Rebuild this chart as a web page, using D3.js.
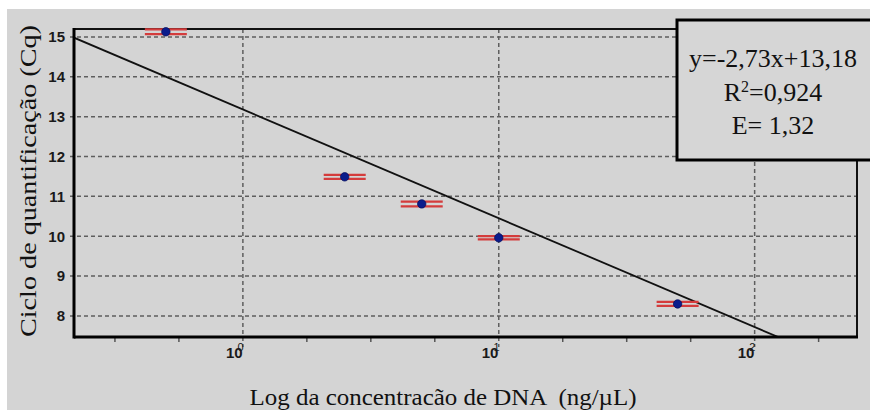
<!DOCTYPE html>
<html>
<head>
<meta charset="utf-8">
<script src="https://cdn.jsdelivr.net/npm/d3@7"></script>
<style>
  html, body { margin: 0; padding: 0; background: #fff; }
  svg { display: block; }
</style>
</head>
<body>
<div class="chart"></div>
<script>
const width = 870
const height = 410

// concentração de DNA (ng/µL) e Cq médio de cada diluição
const concentrations = [0.5, 2.5, 5, 10, 50]
const cqMean = [15.13, 11.49, 10.81, 9.96, 8.30]
const cqError = [0.06, 0.05, 0.06, 0.04, 0.05]

// reta da curva padrão
const slope = -2.73
const intercept = 13.18

const yTicks = [8, 9, 10, 11, 12, 13, 14, 15]
const xMajorTicks = [1, 10, 100]
const xMajorExponents = ["0", "1", "2"]
const xMinorTicks = [-0.5, -0.25, 0.25, 0.5, 0.75, 1.25, 1.5, 1.75, 2.25].map(e => Math.pow(10, e))

const legendLines = ["y=-2,73x+13,18", "R|2|=0,924", "E= 1,32"]

const data = concentrations.map((c, i) => ({conc: c, cq: cqMean[i], err: cqError[i]}))

const margin = {top: 29, right: 13, bottom: 73, left: 74}
const innerWidth = width - margin.left - margin.right
const innerHeight = height - margin.top - margin.bottom

const svg = d3.select(".chart")
    .append("svg")
    .attr("width", width)
    .attr("height", height)

// fundo cinza com a faixa branca em cima e à esquerda
svg.append("rect")
    .attr("x", 7).attr("y", 9)
    .attr("width", width - 7).attr("height", height - 9)
    .attr("fill", "#d4d4d4")

const xScale = d3.scaleLog()
    .domain([Math.pow(10, -0.66), Math.pow(10, 2.4)])
    .range([0, innerWidth])

const yScale = d3.scaleLinear()
    .domain([7.47, 15.2])
    .range([innerHeight, 0])

const g = svg.append("g")
    .attr("transform", `translate(${margin.left}, ${margin.top})`)

g.append("clipPath").attr("id", "plot-clip")
  .append("rect")
    .attr("width", innerWidth)
    .attr("height", innerHeight)

// grade tracejada
g.selectAll("line.hgrid")
    .data(yTicks)
    .enter().append("line")
        .attr("class", "hgrid")
        .attr("x1", -4)
        .attr("x2", innerWidth)
        .attr("y1", d => yScale(d))
        .attr("y2", d => yScale(d))
        .attr("stroke", "#5e5e5e")
        .attr("stroke-width", 1.5)
        .attr("stroke-dasharray", "4,3")

g.selectAll("line.vgrid")
    .data(xMajorTicks)
    .enter().append("line")
        .attr("class", "vgrid")
        .attr("x1", d => xScale(d))
        .attr("x2", d => xScale(d))
        .attr("y1", 0)
        .attr("y2", innerHeight + 10)
        .attr("stroke", "#5e5e5e")
        .attr("stroke-width", 1.5)
        .attr("stroke-dasharray", "4,3")

// marcas menores no eixo x
g.selectAll("line.minor")
    .data(xMinorTicks)
    .enter().append("line")
        .attr("class", "minor")
        .attr("x1", d => xScale(d))
        .attr("x2", d => xScale(d))
        .attr("y1", innerHeight)
        .attr("y2", innerHeight + 5)
        .attr("stroke", "#555")
        .attr("stroke-width", 1.5)

// rótulos do eixo y
g.selectAll("text.ytick")
    .data(yTicks)
    .enter().append("text")
        .attr("class", "ytick")
        .attr("x", -9)
        .attr("y", d => yScale(d))
        .attr("dy", "0.36em")
        .attr("text-anchor", "end")
        .style("font-family", "Liberation Sans, Arial, sans-serif")
        .style("font-size", "15px")
        .style("font-weight", "bold")
        .style("fill", "#1a1a1a")
        .text(d => d)

// rótulos 10^n do eixo x
const xLabels = g.selectAll("text.xtick")
    .data(xMajorTicks)
    .enter().append("text")
        .attr("class", "xtick")
        .attr("x", d => xScale(d) - 17)
        .attr("y", innerHeight + 21)
        .style("font-family", "Liberation Sans, Arial, sans-serif")
        .style("font-size", "15px")
        .style("font-weight", "bold")
        .style("fill", "#1a1a1a")

xLabels.append("tspan").text("10")
xLabels.append("tspan")
    .attr("dx", -5)
    .attr("dy", -7)
    .style("font-size", "11px")
    .style("font-weight", "normal")
    .text((d, i) => xMajorExponents[i])

// reta de regressão
const fitLine = d3.line()
    .x(d => xScale(d))
    .y(d => yScale(intercept + slope * Math.log10(d)))

g.append("path")
    .datum(xScale.domain())
    .attr("clip-path", "url(#plot-clip)")
    .attr("d", fitLine)
    .attr("fill", "none")
    .attr("stroke", "#111")
    .attr("stroke-width", 1.8)

// moldura do gráfico
g.append("line").attr("x1", 0).attr("x2", innerWidth).attr("y1", 0).attr("y2", 0)
    .attr("stroke", "#111").attr("stroke-width", 2)
g.append("line").attr("x1", innerWidth).attr("x2", innerWidth).attr("y1", 0).attr("y2", innerHeight)
    .attr("stroke", "#111").attr("stroke-width", 2)
g.append("line").attr("x1", 0).attr("x2", 0).attr("y1", -1).attr("y2", innerHeight + 1.5)
    .attr("stroke", "#000").attr("stroke-width", 3)
g.append("line").attr("x1", 0).attr("x2", innerWidth + 1).attr("y1", innerHeight).attr("y2", innerHeight)
    .attr("stroke", "#000").attr("stroke-width", 3)

// barras de erro (capas largas) e médias
const capHalf = 21
const points = g.selectAll("g.point")
    .data(data)
    .enter().append("g")
        .attr("class", "point")
        .attr("transform", d => `translate(${xScale(d.conc)}, 0)`)

points.append("line")
    .attr("x1", -capHalf).attr("x2", capHalf)
    .attr("y1", d => yScale(d.cq + d.err))
    .attr("y2", d => yScale(d.cq + d.err))
    .attr("stroke", "#d43c3c")
    .attr("stroke-width", 2.2)

points.append("line")
    .attr("x1", -capHalf).attr("x2", capHalf)
    .attr("y1", d => yScale(d.cq - d.err))
    .attr("y2", d => yScale(d.cq - d.err))
    .attr("stroke", "#d43c3c")
    .attr("stroke-width", 2.2)

points.append("circle")
    .attr("cy", d => yScale(d.cq))
    .attr("r", 4.2)
    .attr("fill", "#0b1c8c")
    .attr("stroke", "#071060")
    .attr("stroke-width", 0.8)

// títulos dos eixos
svg.append("text")
    .attr("transform", `translate(36, 181) rotate(-90)`)
    .attr("text-anchor", "middle")
    .attr("textLength", 312)
    .attr("lengthAdjust", "spacingAndGlyphs")
    .style("font-family", "Liberation Serif, Times New Roman, serif")
    .style("font-size", "24px")
    .style("fill", "#111")
    .text("Ciclo de quantificação (Cq)")

svg.append("text")
    .attr("x", 443)
    .attr("y", 405)
    .attr("text-anchor", "middle")
    .attr("textLength", 387)
    .attr("lengthAdjust", "spacingAndGlyphs")
    .style("white-space", "pre")
    .style("font-family", "Liberation Serif, Times New Roman, serif")
    .style("font-size", "23px")
    .style("fill", "#111")
    .text("Log da concentracão de DNA  (ng/µL)")

// caixa com a equação
const legend = svg.append("g")
    .attr("transform", "translate(677, 20)")

legend.append("rect")
    .attr("width", 210)
    .attr("height", 140)
    .attr("fill", "#d6d6d6")
    .attr("stroke", "#000")
    .attr("stroke-width", 3)

legend.selectAll("text")
    .data(legendLines)
    .enter().append("text")
        .attr("x", 96)
        .attr("y", (d, i) => 47 + i * 33.5)
        .attr("text-anchor", "middle")
        .style("font-family", "Liberation Serif, Times New Roman, serif")
        .style("font-size", "26px")
        .style("fill", "#111")
        .each(function(d) {
            const parts = d.split("|")
            const t = d3.select(this)
            t.append("tspan").text(parts[0])
            if (parts.length > 1) {
                t.append("tspan").attr("dy", -9).style("font-size", "16px").text(parts[1])
                t.append("tspan").attr("dy", 9).text(parts[2])
            }
        })
</script>
</body>
</html>
